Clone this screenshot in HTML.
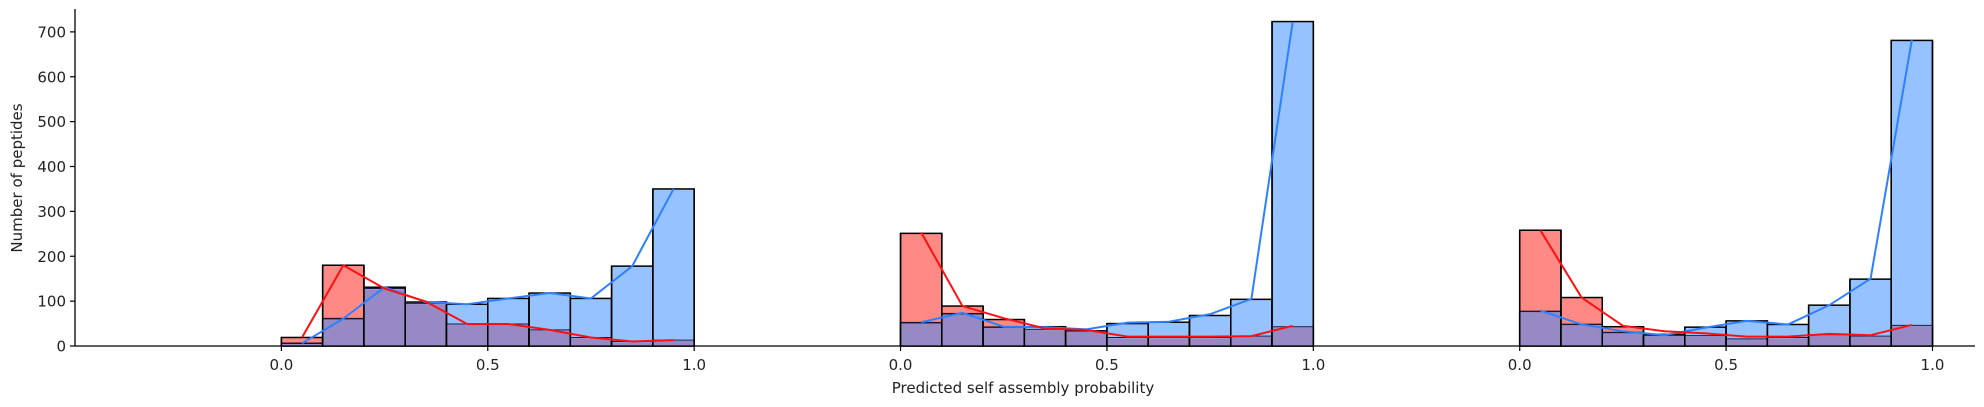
<!DOCTYPE html>
<html><head><meta charset="utf-8"><style>
html,body{margin:0;padding:0;background:#fff;}
svg{display:block;font-family:"DejaVu Sans","Liberation Sans",sans-serif;}
</style></head><body>
<svg id="chart" width="1984" height="407" viewBox="0 0 1984 407">
<g id="marks"></g>
<g id="axes"></g>
</svg>
<script>
const groupOffsets = [0, 1.5, 3.0];
const binEdges = [0,0.1,0.2,0.3,0.4,0.5,0.6,0.7,0.8,0.9,1.0];
const redG1 = [19,180,128,95,49,49,36,19,10,13];
const blueG1 = [6,61,131,98,93,106,118,106,178,350];
const redG2 = [251,89,59,37,34,19,19,19,22,43];
const blueG2 = [52,72,42,43,34,50,53,68,104,723];
const redG3 = [258,108,43,23,23,16,19,25,22,46];
const blueG3 = [77,48,30,26,42,56,48,91,149,681];
const redLine1 = [19,180,128,99,49,49,36,19,10,13];
const blueLine1 = [6,61,131,98,93,106,118,106,178,350];
const redLine2 = [253,89,62,39,36,21,21,21,22,45];
const blueLine2 = [53,74,43,42,37,52,54,71,105,722];
const redLine3 = [258,108,45,33,28,21,21,27,24,47];
const blueLine3 = [79,48,33,24,41,56,48,91,150,682];
const yTicks = [0,100,200,300,400,500,600,700];
const xTickVals = [0,0.5,1.0];
const xTickLabels = ["0.0","0.5","1.0"];

const L=75,R=1975,T=9,B=346,XMIN=-0.5,XMAX=4.103,YMAX=751;
const sx=v=>L+(v-XMIN)/(XMAX-XMIN)*(R-L);
const sy=v=>B-v/YMAX*(B-T);
const NS="http://www.w3.org/2000/svg";
const marks=document.getElementById('marks'), axes=document.getElementById('axes');
function mk(tag,attrs,parent){const e=document.createElementNS(NS,tag);for(const k in attrs)e.setAttribute(k,attrs[k]);parent.appendChild(e);return e;}

const reds=[redG1,redG2,redG3], blues=[blueG1,blueG2,blueG3];
const redLines=[redLine1,redLine2,redLine3], blueLines=[blueLine1,blueLine2,blueLine3];
groupOffsets.forEach((off,g)=>{
  for(let i=0;i<10;i++){
    const x0=sx(off+binEdges[i]), x1=sx(off+binEdges[i+1]);
    const r=reds[g][i], b=blues[g][i], m=Math.min(r,b);
    const rr=mk('rect',{x:x0,y:sy(r),width:x1-x0,height:B-sy(r),fill:'#ff8a85',stroke:'#000','stroke-width':1.5},marks);
    
    
    const br=mk('rect',{x:x0,y:sy(b),width:x1-x0,height:B-sy(b),fill:'#96c3ff',stroke:'#000','stroke-width':1.5},marks);
    
    
    const ov=mk('rect',{x:x0+0.75,y:sy(m)+0.75,width:x1-x0-1.5,height:Math.max(0,B-sy(m)-0.75),fill:'#9689c4'},marks);
    
    
    mk('line',{x1:x0,x2:x1,y1:sy(m),y2:sy(m),stroke:'#1a1a40','stroke-width':1},marks);
    mk('line',{x1:x0,x2:x0,y1:sy(Math.max(r,b)),y2:B,stroke:'#000','stroke-width':1.5},marks);
    mk('line',{x1:x1,x2:x1,y1:sy(Math.max(r,b)),y2:B,stroke:'#000','stroke-width':1.5},marks);
  }
});
groupOffsets.forEach((off,g)=>{
  const pr=redLines[g].map((v,i)=>sx(off+(binEdges[i]+binEdges[i+1])/2)+','+sy(v)).join(' ');
  const pb=blueLines[g].map((v,i)=>sx(off+(binEdges[i]+binEdges[i+1])/2)+','+sy(v)).join(' ');
  const lb=mk('polyline',{points:pb,fill:'none',stroke:'#2f80ff','stroke-width':2},marks);
  
  
  const lr=mk('polyline',{points:pr,fill:'none',stroke:'#ff1010','stroke-width':2},marks);
  
  
});
const ya=mk('line',{x1:L,x2:L,y1:T,y2:B,stroke:'#000','stroke-width':1.3},axes);


const xa=mk('line',{x1:L,x2:R,y1:B,y2:B,stroke:'#000','stroke-width':1.3},axes);


yTicks.forEach(v=>{
  mk('line',{x1:L-5,x2:L,y1:sy(v),y2:sy(v),stroke:'#000','stroke-width':1.2},axes);
  const t=mk('text',{x:L-9,y:sy(v)+5.5,'text-anchor':'end','font-size':15,fill:'#222'},axes);
  t.textContent=v;
  
  
});
groupOffsets.forEach(off=>{
  xTickVals.forEach((v,i)=>{
    const x=sx(off+v);
    mk('line',{x1:x,x2:x,y1:B,y2:B+5,stroke:'#000','stroke-width':1.2},axes);
    const t=mk('text',{x:x,y:B+24,'text-anchor':'middle','font-size':15,fill:'#222'},axes);
    t.textContent=xTickLabels[i];
    
    
  });
});
const xl=mk('text',{x:1023,y:393,'text-anchor':'middle','font-size':15,fill:'#222'},axes);
xl.textContent='Predicted self assembly probability';


const yl=mk('text',{x:0,y:0,'text-anchor':'middle','font-size':15,fill:'#222',transform:'translate(22,178) rotate(-90)'},axes);
yl.textContent='Number of peptides';


</script>
</body></html>
